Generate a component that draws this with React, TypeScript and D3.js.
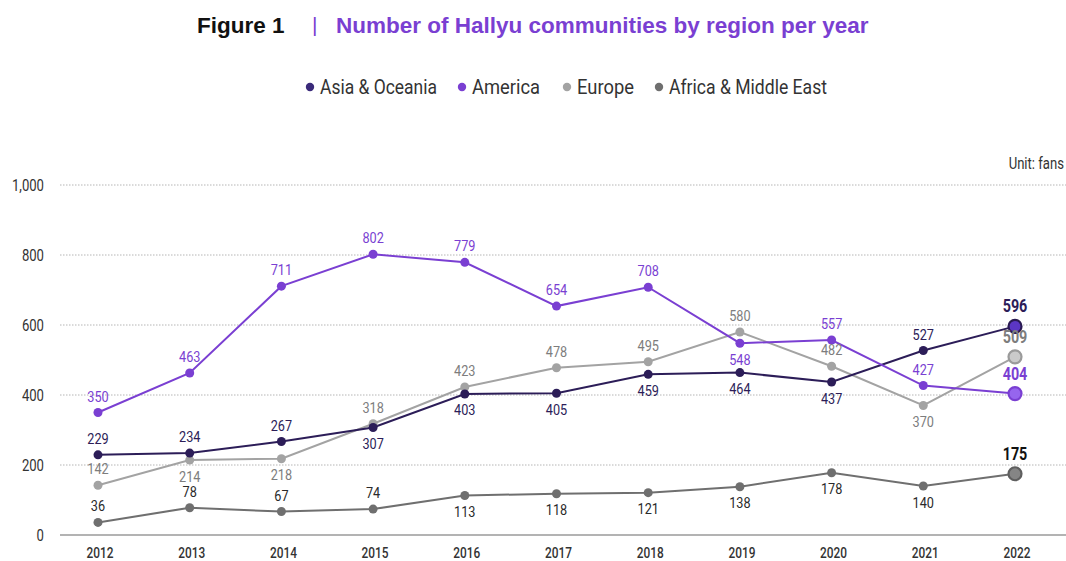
import React from "react";
import * as d3 from "d3";

const years = ["2012","2013","2014","2015","2016","2017","2018","2019","2020","2021","2022"];
const asiaOceania = [229, 234, 267, 307, 403, 405, 459, 464, 437, 527, 596];
const america = [350, 463, 711, 802, 779, 654, 708, 548, 557, 427, 404];
const europe = [142, 214, 218, 318, 423, 478, 495, 580, 482, 370, 509];
const africaMiddleEast = [36, 78, 67, 74, 113, 118, 121, 138, 178, 140, 175];
const yTicks = [0, 200, 400, 600, 800, 1000];

// label placement: a = above, b = below
const asiaSide = ["a","a","a","b","b","b","b","b","b","a","a"];
const americaSide = ["a","a","a","a","a","a","a","b","a","a","a"];
const europeSide = ["a","b","b","a","a","a","a","a","a","b","a"];
const africaSide = ["a","a","a","a","b","b","b","b","b","b","a"];

const seriesDefs = [
  { name: "Asia & Oceania", values: asiaOceania, side: asiaSide, color: "#2c1d58", label: "#2c1d58", lastFill: "#5b36c4", lastStroke: "#2a1a52", lastLabel: "#2c1d58" },
  { name: "America", values: america, side: americaSide, color: "#7a3fd2", label: "#7a3fd2", lastFill: "#9665ee", lastStroke: "#7a3fd2", lastLabel: "#7a3fd2" },
  { name: "Europe", values: europe, side: europeSide, color: "#a3a3a3", label: "#7d7d7d", lastFill: "#cacaca", lastStroke: "#9a9a9a", lastLabel: "#7d7d7d" },
  { name: "Africa & Middle East", values: africaMiddleEast, side: africaSide, color: "#6f6f6f", label: "#2a2a2a", lastFill: "#858585", lastStroke: "#5f5f5f", lastLabel: "#111111" },
];

const legendColors = ["#3a2a7a", "#7a3fd2", "#a3a3a3", "#6f6f6f"];
const legendDotX = [310, 462, 567, 659];
const legendTextLen = [117, 68, 57, 158];

const W = 1066, H = 561;
const COND = "Roboto, 'Liberation Sans', sans-serif";
const SANS = "'Liberation Sans', Arial, sans-serif";
const SX = 0.82;

function CText(props: { x: number; y: number; size: number; fill: string; anchor?: string; weight?: string | number; children: React.ReactNode }) {
  return (
    <text transform={`translate(${props.x},${props.y}) scale(${SX},1)`} textAnchor={props.anchor || "middle"}
      fontFamily={COND} fontSize={props.size} fontWeight={props.weight || "normal"} fill={props.fill}>
      {props.children}
    </text>
  );
}

export default function App() {
  const x = d3.scalePoint<string>().domain(years).range([98, 1015]);
  const y = d3.scaleLinear().domain([0, 1000]).range([535, 185]);
  const line = d3.line<number>().x((_, i) => x(years[i])!).y((d) => y(d));

  return (
    <div style={{ position: "absolute", left: 0, top: 0 }}>
      <svg width={W} height={H} style={{ display: "block", background: "#fff" }}>
        {/* Title */}
        <text x={197} y={33} fontFamily={SANS} fontWeight="bold" fontSize={22.5} fill="#111">Figure 1</text>
        <text x={312} y={32} fontFamily={SANS} fontSize={21} fill="#7a3fd2">|</text>
        <text x={336} y={33} fontFamily={SANS} fontWeight="bold" fontSize={22.5} fill="#7a3fd2">Number of Hallyu communities by region per year</text>

        {/* Legend */}
        {seriesDefs.map((s, i) => (
          <g key={s.name}>
            <circle cx={legendDotX[i]} cy={87} r={4.2} fill={legendColors[i]} />
            <text x={legendDotX[i] + 10} y={94} fontFamily={COND} fontSize={20} fill="#333"
              textLength={legendTextLen[i]} lengthAdjust="spacingAndGlyphs">{s.name}</text>
          </g>
        ))}

        <CText x={1064} y={169} size={16} fill="#333" anchor="end">Unit: fans</CText>

        {/* grid */}
        {yTicks.map((t) => (
          <g key={t}>
            {t > 0 ? (
              <line x1={60} x2={1066} y1={y(t)} y2={y(t)} stroke="#b5b5b5" strokeWidth={1} strokeDasharray="1.5,1.5" />
            ) : (
              <line x1={60} x2={1066} y1={y(t)} y2={y(t)} stroke="#9a9a9a" strokeWidth={1.3} />
            )}
            <CText x={44} y={y(t) + 6} size={16} fill="#333" anchor="end">{d3.format(",")(t)}</CText>
          </g>
        ))}

        {years.map((yr) => (
          <CText key={yr} x={x(yr)! + 2} y={558} size={14.5} weight={500} fill="#333">{yr}</CText>
        ))}

        {/* series lines */}
        {[3, 2, 0, 1].map((si) => {
          const s = seriesDefs[si];
          return <path key={s.name} d={line(s.values)!} fill="none" stroke={s.color} strokeWidth={2} />;
        })}

        {[3, 2, 0, 1].map((si) => {
          const s = seriesDefs[si];
          return (
            <g key={s.name + "pts"}>
              {s.values.map((v, i) => {
                const last = i === s.values.length - 1;
                return last ? (
                  <circle key={i} cx={x(years[i])} cy={y(v)} r={6.5} fill={s.lastFill} stroke={s.lastStroke} strokeWidth={2.2} />
                ) : (
                  <circle key={i} cx={x(years[i])} cy={y(v)} r={4.5} fill={s.color} />
                );
              })}
            </g>
          );
        })}

        {seriesDefs.map((s) => (
          <g key={s.name + "lbl"}>
            {s.values.map((v, i) => {
              const last = i === s.values.length - 1;
              const py = y(v);
              const ty = s.side[i] === "a" ? py - (last ? 14 : 11) : py + 21.5;
              return (
                <CText key={i} x={x(years[i])!} y={ty} size={last ? 17.5 : 15.5}
                  weight={last ? "bold" : "normal"} fill={last ? s.lastLabel : s.label}>{v}</CText>
              );
            })}
          </g>
        ))}
      </svg>
    </div>
  );
}
